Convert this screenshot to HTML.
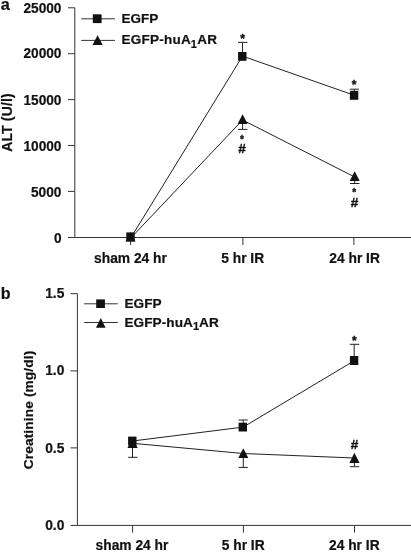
<!DOCTYPE html>
<html><head><meta charset="utf-8">
<style>
html,body{margin:0;padding:0;background:#fff;}
svg{display:block;}
.st{stroke:#111;stroke-width:0.35;}
text{font-family:"Liberation Sans",Arial,Helvetica,sans-serif;font-weight:bold;fill:#111;stroke:#111;stroke-width:0.2;}
</style></head>
<body>
<svg width="411" height="553" viewBox="0 0 411 553">
<rect width="411" height="553" fill="#fff"/>
<!-- Panel a -->
<g stroke="#333" stroke-width="1" fill="none">
<path d="M74.800 7.800V237.500H411"/>
<path d="M68 7.800H74.800M68 53.700H74.800M68 99.600H74.800M68 145.500H74.800M68 191.400H74.800M68 237.500H74.800"/>
<path d="M130.600 237.500V245M242.900 237.500V245M353.900 237.500V245"/>
</g>
<text x="0.800" y="10.100" font-size="16.300">a</text>
<g font-size="14.5" text-anchor="end" lengthAdjust="spacingAndGlyphs">
<text x="61.500" y="12.6" textLength="38.1" lengthAdjust="spacingAndGlyphs">25000</text>
<text x="61.500" y="58.4" textLength="38.1" lengthAdjust="spacingAndGlyphs">20000</text>
<text x="61.500" y="104.8" textLength="38.1" lengthAdjust="spacingAndGlyphs">15000</text>
<text x="61.500" y="151.1" textLength="38.1" lengthAdjust="spacingAndGlyphs">10000</text>
<text x="61.500" y="197.0" textLength="30.5" lengthAdjust="spacingAndGlyphs">5000</text>
<text x="61.500" y="242.9" textLength="7.6" lengthAdjust="spacingAndGlyphs">0</text>
</g>
<text transform="translate(11.900,122.600) rotate(-90)" font-size="14" text-anchor="middle" textLength="58.500">ALT (U/l)</text>
<g font-size="13.8" text-anchor="middle">
<text x="130.500" y="263.300">sham 24 hr</text>
<text x="242.700" y="263.300">5 hr IR</text>
<text x="354.600" y="263.300">24 hr IR</text>
</g>
<!-- legend a -->
<g stroke="#333" stroke-width="1">
<path d="M81.200 18.800H115M81.200 40.400H115"/>
</g>
<rect x="92.800" y="14.300" width="8.800" height="8.800" fill="#111"/>
<path d="M97.600 35.200L102.700 45.100H92.500Z" fill="#111"/>
<text x="121.600" y="23.300" font-size="13.500">EGFP</text>
<text x="121.600" y="44.300" font-size="13.500" letter-spacing="0.22">EGFP-huA<tspan font-size="11" dy="3.600">1</tspan><tspan dy="-3.600">AR</tspan></text>
<!-- data a -->
<g stroke="#222" stroke-width="1" fill="none">
<path d="M131.200 237.200L242.500 56.100L354.300 95.300"/>
<path d="M131.400 237.400L242.600 120L354.700 177"/>
<path d="M242.500 56V42.400M238 42.400H247.400"/>
<path d="M354.300 95V89.200M349.800 89.200H359"/>
<path d="M242.600 120V129.400M238 129.400H247.400"/>
<path d="M354.700 177V183.500M350 183.500H359.500"/>
</g>
<rect x="126.300" y="232.400" width="8.400" height="9" fill="#111"/>
<path d="M130.500 232L135.600 241.600H125.400Z" fill="#111"/>
<rect x="238.100" y="52" width="8.400" height="8.800" fill="#111"/>
<rect x="349.900" y="90.800" width="8.400" height="9" fill="#111"/>
<path d="M242.600 114.300L247.600 124H237.600Z" fill="#111"/>
<path d="M354.700 171.300L359.700 181H349.700Z" fill="#111"/>
<g text-anchor="middle">
<text x="242.500" y="43.200" font-size="12" class="st">*</text>
<text x="354.200" y="88.500" font-size="12" class="st">*</text>
<text x="242" y="142.800" font-size="10" class="st">*</text>
<text x="242.100" y="153" font-size="13.500" class="st">#</text>
<text x="354.300" y="196" font-size="10" class="st">*</text>
<text x="354.400" y="206.600" font-size="13.500" class="st">#</text>
</g>

<!-- Panel b -->
<g stroke="#333" stroke-width="1" fill="none">
<path d="M77.400 293.700V525.400H411"/>
<path d="M70.500 293.700H77.400M70.500 370.900H77.400M70.500 447.900H77.400M70.500 525.400H77.400"/>
<path d="M132.600 525.400V532.600M243.400 525.400V532.600M354.500 525.400V532.600"/>
</g>
<text x="0.700" y="299.200" font-size="16">b</text>
<g font-size="13.8" text-anchor="end">
<text x="64.400" y="297.5" font-size="14.5" textLength="19.200" lengthAdjust="spacingAndGlyphs">1.5</text>
<text x="64.400" y="375.3" font-size="14.5" textLength="19.200" lengthAdjust="spacingAndGlyphs">1.0</text>
<text x="64.400" y="452.5" font-size="14.5" textLength="19.200" lengthAdjust="spacingAndGlyphs">0.5</text>
<text x="64.400" y="529.9" font-size="14.5" textLength="19.200" lengthAdjust="spacingAndGlyphs">0.0</text>
</g>
<text transform="translate(32.500,410) rotate(-90)" font-size="13.700" text-anchor="middle" textLength="118.600">Creatinine (mg/dl)</text>
<g font-size="13.8" text-anchor="middle">
<text x="132" y="550.300">sham 24 hr</text>
<text x="243.200" y="550.300">5 hr IR</text>
<text x="354.300" y="550.300">24 hr IR</text>
</g>
<g stroke="#333" stroke-width="1">
<path d="M84.200 303.800H117.800M84.200 322.500H117.800"/>
</g>
<rect x="96.200" y="299.400" width="8.700" height="8.600" fill="#111"/>
<path d="M100.800 318L105.600 327.800H96Z" fill="#111"/>
<text x="124.500" y="307.500" font-size="13.600">EGFP</text>
<text x="124.500" y="326.600" font-size="13.600" letter-spacing="0.05">EGFP-huA<tspan font-size="11" dy="3.600">1</tspan><tspan dy="-3.600">AR</tspan></text>
<g stroke="#222" stroke-width="1" fill="none">
<path d="M132.500 441L243.200 427.100L354.200 360.800"/>
<path d="M132.500 443.300L243.300 453.500L354.300 458"/>
<path d="M132.500 443V457.300M128.200 457.300H137.500"/>
<path d="M243.200 427V420M238.600 420H247.800"/>
<path d="M243.300 453V467.400M238.600 467.400H247.800"/>
<path d="M354.200 360V344.300M349.800 344.300H359.200"/>
<path d="M354.400 458V466.700M349.800 466.700H359.200"/>
</g>
<rect x="128.100" y="436.600" width="8.400" height="9" fill="#111"/>
<path d="M132.500 438.300L137.700 448.100H127.500Z" fill="#111"/>
<rect x="238.600" y="422.700" width="8.400" height="8.800" fill="#111"/>
<rect x="349.900" y="356" width="8.400" height="9" fill="#111"/>
<path d="M243.300 448.200L248.300 457.900H238.300Z" fill="#111"/>
<path d="M354.400 452.800L359.500 462.900H349.400Z" fill="#111"/>
<g text-anchor="middle">
<text x="354.400" y="344.500" font-size="12" class="st">*</text>
<text x="354.500" y="449.100" font-size="13.500" class="st">#</text>
</g>
</svg>
</body></html>
